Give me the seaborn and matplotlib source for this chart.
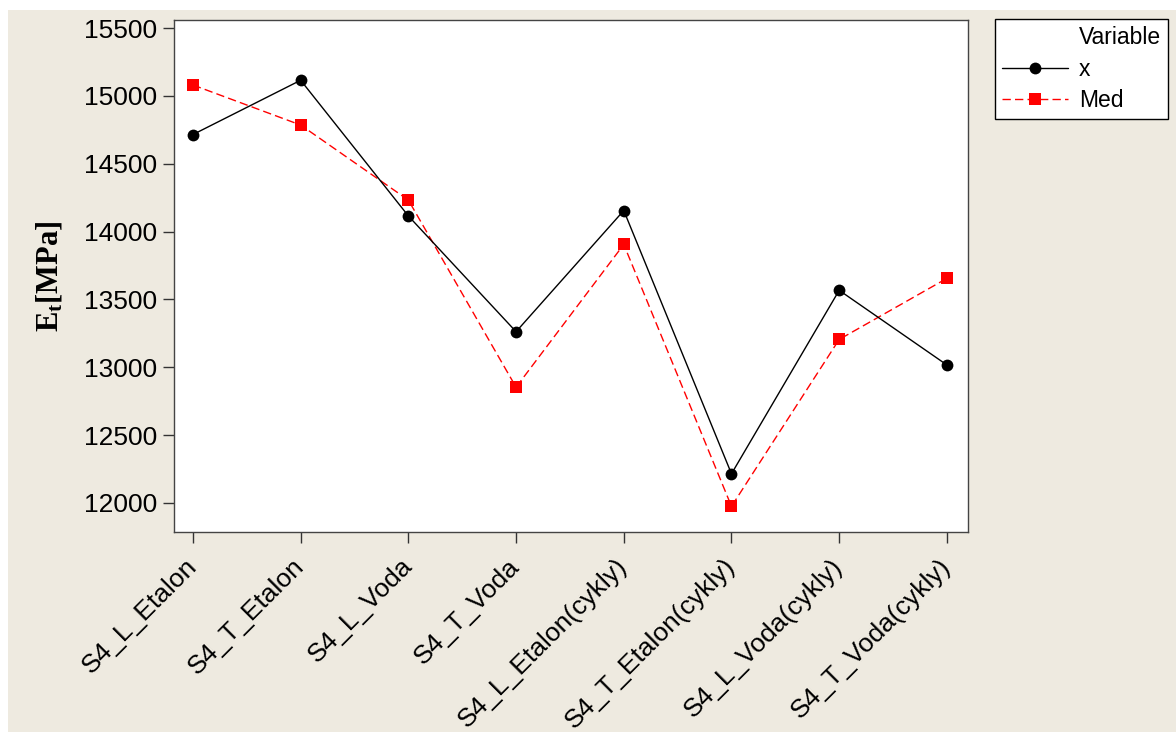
import numpy as np
import pandas as pd
import matplotlib
matplotlib.use("Agg")
import matplotlib.pyplot as plt
import seaborn as sns
from matplotlib.lines import Line2D
from matplotlib.patches import Rectangle

categories = ["S4_L_Etalon", "S4_T_Etalon", "S4_L_Voda", "S4_T_Voda",
              "S4_L_Etalon(cykly)", "S4_T_Etalon(cykly)", "S4_L_Voda(cykly)", "S4_T_Voda(cykly)"]
x_values = [14715, 15115, 14115, 13262, 14155, 12215, 13567, 13017]
med_values = [15080, 14785, 14232, 12853, 13905, 11975, 13205, 13655]
series_names = ["x", "Med"]
y_ticks = [12000, 12500, 13000, 13500, 14000, 14500, 15000, 15500]

df = pd.DataFrame({
    "pos": list(range(len(categories))) * 2,
    "value": x_values + med_values,
    "Variable": [series_names[0]] * len(categories) + [series_names[1]] * len(categories),
})

sns.set_style("white")
plt.rcParams["font.family"] = ["Liberation Sans", "DejaVu Sans"]
plt.rcParams["text.color"] = "black"
plt.rcParams["axes.labelcolor"] = "black"
plt.rcParams["xtick.color"] = "black"
plt.rcParams["ytick.color"] = "black"
plt.rcParams["mathtext.fontset"] = "custom"
plt.rcParams["mathtext.rm"] = "Liberation Serif:bold"
plt.rcParams["mathtext.bf"] = "Liberation Serif:bold"
plt.rcParams["mathtext.it"] = "Liberation Serif:bold"

W, H = 1176, 733
fig = plt.figure(figsize=(W / 100, H / 100), dpi=100, facecolor="white")
bg = "#EEEAE0"
fig.patches.append(Rectangle((8 / W, 1 / H), 1 - 8 / W, (H - 11) / H,
                             transform=fig.transFigure, facecolor=bg,
                             edgecolor="none", zorder=-10))

ax = fig.add_axes([174 / W, 1 - 532 / H, (968 - 174) / W, (532 - 20) / H])
ax.set_facecolor("white")

palette = {"x": "black", "Med": "#FF0000"}
sns.lineplot(data=df, x="pos", y="value", hue="Variable", style="Variable",
             palette=palette, markers={"x": "o", "Med": "s"},
             dashes={"x": "", "Med": (6, 3)}, markersize=8.5, linewidth=1,
             markeredgewidth=0, ax=ax, legend=False)
for line in ax.get_lines():
    if line.get_color() in ("black", "#000000"):
        line.set_zorder(3)

ax.set_xlim(-0.176, 7.196)
ax.set_ylim(11786, 15559)
ax.set_xticks(range(len(categories)))
ax.set_xticklabels(categories, rotation=45, ha="right", va="center",
                   rotation_mode="anchor", fontsize=19, color="black")
ax.set_yticks(y_ticks)
ax.set_yticklabels([str(v) for v in y_ticks], fontsize=19, color="black")
ax.tick_params(axis="both", direction="out", length=8, width=1, color="#333333",
               bottom=True, left=True)
ax.tick_params(axis="y", pad=4)
ax.tick_params(axis="x", pad=14)
for s in ax.spines.values():
    s.set_color("#444444")
    s.set_linewidth(1)
ax.set_xlabel("")
ax.set_ylabel(r"$\mathrm{E_t}$[MPa]", fontsize=22, fontweight="bold",
              family=["Liberation Serif"], labelpad=14, color="black")

handles = [Line2D([], [], color="none"),
           Line2D([], [], color="black", marker="o", markersize=8.5, lw=1, markeredgewidth=0),
           Line2D([], [], color="#FF0000", marker="s", markersize=8.5, lw=1, ls=(0, (6, 3)), markeredgewidth=0)]
labels = ["Variable", "x", "Med"]
leg = fig.legend(handles, labels, loc="upper left",
                 bbox_to_anchor=(995 / W, 1 - 19 / H), bbox_transform=fig.transFigure,
                 fontsize=16.5, frameon=True, fancybox=False, edgecolor="black",
                 framealpha=1, handlelength=2.9, labelspacing=0.38,
                 borderpad=0.3, handletextpad=0.45, borderaxespad=0)
leg.get_frame().set_linewidth(1)
for t in leg.get_texts():
    t.set_color("black")

fig.savefig("out.png", dpi=100, facecolor="white")
